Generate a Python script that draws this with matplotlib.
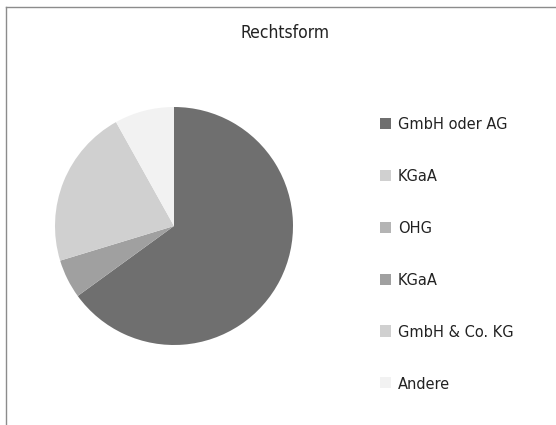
import matplotlib
matplotlib.use("Agg")
import matplotlib.pyplot as plt
from matplotlib.lines import Line2D
from matplotlib.font_manager import FontProperties

labels = ["GmbH oder AG", "KGaA", "OHG", "KGaA", "GmbH & Co. KG", "Andere"]
values = [65.0, 0.0, 0.0, 5.3, 21.6, 8.1]
colors = ["#6f6f6f", "#d0d0d0", "#b4b4b4", "#a0a0a0", "#d0d0d0", "#f2f2f2"]
title = "Rechtsform"

plt.rcParams['font.family'] = ['DejaVu Sans']
plt.rcParams['font.stretch'] = 'condensed'

fig = plt.figure(figsize=(5.56, 4.25), dpi=100)
fig.patch.set_facecolor("white")

ax = fig.add_axes([55/556, (425-226-119)/425, 238/556, 238/425])
wedges, _ = ax.pie(values, colors=colors, startangle=90, counterclock=False,
                   radius=1.0, wedgeprops=dict(linewidth=0))
ax.set_xlim(-1, 1)
ax.set_ylim(-1, 1)
ax.set_aspect('equal')
ax.axis('off')

fp_title = FontProperties(family='DejaVu Sans', stretch='condensed', size=12.5)
fig.text(285/556, 1 - 33/425, title, ha='center', va='center', fontproperties=fp_title,
         color='#222222')

fp_leg = FontProperties(family='DejaVu Sans', stretch='condensed', size=11.7)
leg = fig.legend(wedges, labels, loc='upper left', bbox_to_anchor=(372/556, 1 - 109/425),
                 frameon=False, prop=fp_leg, handlelength=0.68, handleheight=0.68,
                 handletextpad=0.4, labelspacing=2.27, borderpad=0)
for t in leg.get_texts():
    t.set_color('#222222')

# frame lines (top and left)
fig.add_artist(Line2D([6/556, 1.0], [1 - 7/425, 1 - 7/425], transform=fig.transFigure,
                      color='#8c8c8c', linewidth=1.0))
fig.add_artist(Line2D([6/556, 6/556], [0, 1 - 7/425], transform=fig.transFigure,
                      color='#8c8c8c', linewidth=1.0))

fig.savefig("out.png", dpi=100)
